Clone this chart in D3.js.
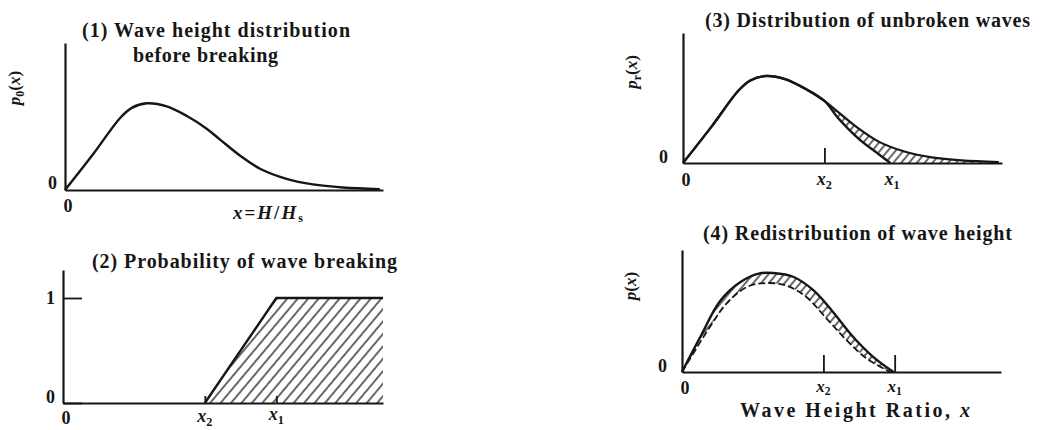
<!DOCTYPE html>
<html>
<head>
<meta charset="utf-8">
<script src="https://cdn.jsdelivr.net/npm/d3@7"></script>
<style>
  html, body { margin: 0; padding: 0; background: #fff; }
  svg text { font-family: "Liberation Serif", "DejaVu Serif", serif; font-weight: bold; fill: #161616; }
</style>
</head>
<body>
<svg id="chart" width="1044" height="430"></svg>
<script>
// Wave height ratio x = H/Hs; breaking starts at x2 and is complete at x1
const x2Value = 1.33;
const x1Value = 2.0;

// (1) Wave height distribution before breaking, p0(x)
const p0X = [0, 0.27, 0.52, 0.63, 0.77, 0.96, 1.15, 1.33, 1.46, 1.65, 1.84, 2.09, 2.34, 2.62, 2.97];
const p0Y = [0, 0.36, 0.71, 0.81, 0.855, 0.825, 0.73, 0.61, 0.50, 0.34, 0.21, 0.11, 0.055, 0.025, 0.008];

// (2) Probability of wave breaking
const breakX = [1.33, 2.0, 3.0];
const breakP = [0, 1, 1];

// (3) Distribution of unbroken waves, pr(x)
const prX = [0, 0.27, 0.52, 0.63, 0.77, 0.96, 1.15, 1.33, 1.46, 1.65, 1.83, 1.95];
const prY = [0, 0.36, 0.71, 0.81, 0.855, 0.825, 0.73, 0.61, 0.44, 0.24, 0.095, 0];

// (4) Redistributed wave heights p(x) (solid) and unbroken waves (dashed)
const reX = [0, 0.17, 0.36, 0.55, 0.73, 0.86, 1.05, 1.24, 1.42, 1.61, 1.80, 1.99];
const reY = [0, 0.34, 0.70, 0.885, 0.97, 0.973, 0.934, 0.80, 0.59, 0.344, 0.147, 0];
const dashX = [0, 0.26, 0.42, 0.61, 0.80, 0.98, 1.17, 1.36, 1.55, 1.74, 1.96];
const dashY = [0, 0.44, 0.675, 0.836, 0.875, 0.85, 0.737, 0.525, 0.31, 0.13, 0];

// Axis tick values
const probTicks = [0, 1];
const zeroTick = [0];

const ink = "#161616";
const svg = d3.select("#chart");
const zip = (xs, ys) => xs.map((v, i) => [v, ys[i]]);

// hatch patterns
const defs = svg.append("defs");
function hatch(id, gap, width) {
  const p = defs.append("pattern")
    .attr("id", id).attr("patternUnits", "userSpaceOnUse")
    .attr("width", gap).attr("height", gap)
    .attr("patternTransform", "rotate(40)");
  p.append("line").attr("x1", gap / 2).attr("y1", -1).attr("x2", gap / 2).attr("y2", gap + 1)
    .attr("stroke", ink).attr("stroke-width", width);
}
hatch("hatchWide", 8, 1.3);
hatch("hatchFine", 6, 1.3);

function makePanel(box, yMax) {
  const x = d3.scaleLinear().domain([0, 3]).range([box.left, box.right]);
  const y = d3.scaleLinear().domain([0, yMax]).range([box.bottom, box.top]);
  const g = svg.append("g");
  return { x, y, g, box };
}

function drawAxes(P, xTicks, xTickLen, yTicks, yTickLen, yLabelShift, yLabelPad) {
  const xa = d3.axisBottom(P.x).tickValues(xTicks).tickSizeInner(-xTickLen).tickSizeOuter(0).tickFormat("");
  const ga = P.g.append("g").attr("transform", `translate(0,${P.box.bottom})`).call(xa);
  const ya = d3.axisLeft(P.y).tickValues(yTicks).tickSizeInner(-yTickLen).tickSizeOuter(0).tickPadding(yLabelPad)
    .tickFormat(d3.format("d"));
  const gy = P.g.append("g").attr("transform", `translate(${P.box.left},0)`).call(ya);
  [ga, gy].forEach(a => {
    a.select(".domain").attr("stroke", ink).attr("stroke-width", 2.2);
    a.selectAll(".tick line").attr("stroke", ink).attr("stroke-width", 1.8);
  });
  gy.selectAll(".tick text")
    .attr("font-size", 18).attr("font-family", "Liberation Serif").attr("font-weight", "bold")
    .attr("fill", ink)
    .attr("y", d => (d === 0 ? -yLabelShift : 0));
}

// italic variable with optional subscript
function mathText(parent, px, py, name, sub, size, anchor) {
  const t = parent.append("text").attr("x", px).attr("y", py)
    .attr("font-size", size).attr("text-anchor", anchor || "middle");
  t.append("tspan").attr("font-style", "italic").text(name);
  if (sub) t.append("tspan").attr("font-size", size * 0.68).attr("dy", size * 0.2).text(sub);
  return t;
}

function xZero(P, dy) {
  P.g.append("text").attr("x", P.x(0) + 3).attr("y", P.box.bottom + dy)
    .attr("font-size", 18).attr("text-anchor", "middle").text("0");
}

function yTitle(parent, cx, cy, sub) {
  const t = parent.append("text")
    .attr("transform", `translate(${cx},${cy}) rotate(-90)`)
    .attr("text-anchor", "middle").attr("font-size", 17);
  t.append("tspan").attr("font-style", "italic").text("p");
  if (sub) t.append("tspan").attr("font-size", 12).attr("dy", 4).text(sub);
  t.append("tspan").attr("dy", sub ? -4 : 0).text("(");
  t.append("tspan").attr("font-style", "italic").text("x");
  t.append("tspan").text(")");
}

function title(px, py, str, len) {
  svg.append("text").attr("x", px).attr("y", py).attr("font-size", 20)
    .attr("textLength", len).attr("lengthAdjust", "spacing").text(str);
}

const lineOf = P => d3.line().x(d => P.x(d[0])).y(d => P.y(d[1])).curve(d3.curveCatmullRom.alpha(0.5));
const areaOf = P => d3.area().x(d => P.x(d[0])).y0(P.y(0)).y1(d => P.y(d[1])).curve(d3.curveCatmullRom.alpha(0.5));

// ---------- (1) ----------
const P1 = makePanel({ left: 65, right: 383, top: 43, bottom: 190 }, 1.45);
drawAxes(P1, [], 0, zeroTick, 0, 7, 8);
P1.g.append("path").attr("d", lineOf(P1)(zip(p0X, p0Y)))
  .attr("fill", "none").attr("stroke", ink).attr("stroke-width", 2.4);
xZero(P1, 22);
{
  const t = P1.g.append("text").attr("x", 233).attr("y", 219).attr("font-size", 19)
    .attr("letter-spacing", 2);
  t.append("tspan").attr("font-style", "italic").text("x");
  t.append("tspan").text("=");
  t.append("tspan").attr("font-style", "italic").text("H");
  t.append("tspan").text("/");
  t.append("tspan").attr("font-style", "italic").text("H");
  t.append("tspan").attr("font-size", 12).attr("dy", 3).text("s");
}
yTitle(svg, 20, 88, "0");
title(82, 37, "(1) Wave height distribution", 268);
title(133, 62, "before breaking", 145);

// ---------- (2) ----------
const P2 = makePanel({ left: 63, right: 383, top: 270, bottom: 403 }, 133 / 105);
const breakPts = zip(breakX, breakP);
P2.g.append("path")
  .attr("d", d3.area().x(d => P2.x(d[0])).y0(P2.y(0)).y1(d => P2.y(d[1]))(breakPts))
  .attr("fill", "url(#hatchWide)");
drawAxes(P2, [x2Value, x1Value], 7, probTicks, 19, 6, 8);
P2.g.append("path").attr("d", d3.line().x(d => P2.x(d[0])).y(d => P2.y(d[1]))(breakPts))
  .attr("fill", "none").attr("stroke", ink).attr("stroke-width", 2.4);
xZero(P2, 21);
mathText(P2.g, P2.x(x2Value), 422, "x", "2", 18);
mathText(P2.g, P2.x(x1Value), 420, "x", "1", 18);
title(92, 268, "(2) Probability of wave breaking", 305);

// ---------- (3) ----------
const P3 = makePanel({ left: 683, right: 1002, top: 33, bottom: 163 }, 130 / 101.7);
P3.g.append("path").attr("d", areaOf(P3)(zip(p0X, p0Y).filter(d => d[0] >= x2Value)))
  .attr("fill", "url(#hatchFine)");
P3.g.append("path").attr("d", areaOf(P3)(zip(prX, prY)))
  .attr("fill", "#fff");
drawAxes(P3, [x2Value], 15, zeroTick, 0, 6, 15);
P3.g.append("path").attr("d", lineOf(P3)(zip(p0X, p0Y)))
  .attr("fill", "none").attr("stroke", ink).attr("stroke-width", 2.2);
P3.g.append("path").attr("d", lineOf(P3)(zip(prX, prY)))
  .attr("fill", "none").attr("stroke", ink).attr("stroke-width", 2.4);
xZero(P3, 23);
mathText(P3.g, P3.x(x2Value), 185, "x", "2", 18);
mathText(P3.g, 892, 185, "x", "1", 18);
yTitle(svg, 637, 72, "r");
title(705, 27, "(3) Distribution of unbroken waves", 325);

// ---------- (4) ----------
const P4 = makePanel({ left: 682, right: 1001, top: 250, bottom: 372 }, 122 / 101.7);
P4.g.append("path").attr("d", areaOf(P4)(zip(reX, reY))).attr("fill", "url(#hatchFine)");
P4.g.append("path").attr("d", areaOf(P4)(zip(dashX, dashY))).attr("fill", "#fff");
drawAxes(P4, [x2Value, x1Value], 17, zeroTick, 0, 6, 15);
P4.g.append("path").attr("d", lineOf(P4)(zip(dashX, dashY)))
  .attr("fill", "none").attr("stroke", ink).attr("stroke-width", 1.8).attr("stroke-dasharray", "7,3");
P4.g.append("path").attr("d", lineOf(P4)(zip(reX, reY)))
  .attr("fill", "none").attr("stroke", ink).attr("stroke-width", 2.4);
xZero(P4, 22);
mathText(P4.g, P4.x(x2Value), 392, "x", "2", 17);
mathText(P4.g, P4.x(x1Value), 392, "x", "1", 17);
yTitle(svg, 636, 286, null);
title(703, 240, "(4) Redistribution of wave height", 309);
{
  const t = svg.append("text").attr("x", 740).attr("y", 417).attr("font-size", 20)
    .attr("textLength", 230).attr("lengthAdjust", "spacing");
  t.append("tspan").text("Wave Height Ratio, ");
  t.append("tspan").attr("font-style", "italic").text("x");
}
</script>
</body>
</html>
